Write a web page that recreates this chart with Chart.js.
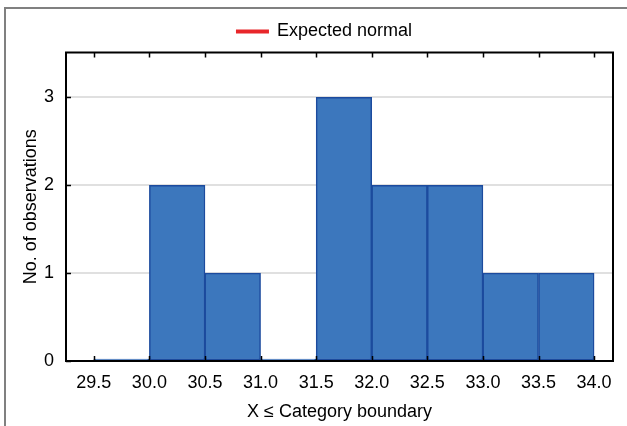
<!DOCTYPE html>
<html>
<head>
<meta charset="utf-8">
<script src="https://cdn.jsdelivr.net/npm/chart.js@4.4.1/dist/chart.umd.min.js"></script>
<style>
  html, body { margin: 0; padding: 0; background: #fff; }
  #wrap { width: 627px; height: 426px; }
</style>
</head>
<body>
<div id="wrap"><canvas id="histChart" width="627" height="426"></canvas></div>
<script>
// bin centres (each bin is 0.5 wide) and counts
const binCenters = [29.75, 30.25, 30.75, 31.25, 31.75, 32.25, 32.75, 33.25, 33.75];
const binCounts = [0, 2, 1, 0, 3, 2, 2, 1, 1];
// tick labels
const xTicks = [29.5, 30.0, 30.5, 31.0, 31.5, 32.0, 32.5, 33.0, 33.5, 34.0];
const yTicks = [0, 1, 2, 3];

const FONT = { family: "'Liberation Sans', Arial, sans-serif", size: 18 };

// outer frame + black plot box with inward tick marks
const framePlugin = {
  id: 'frame',
  afterLayout(chart) {
    // legend sits a bit right of the canvas centre in the original
    chart.legend.left += 13;
    chart.legend.right += 13;
  },
  beforeDraw(chart) {
    const ctx = chart.ctx;
    ctx.save();
    ctx.fillStyle = '#fff';
    ctx.fillRect(0, 0, chart.width, chart.height);
    ctx.strokeStyle = '#808080';
    ctx.lineWidth = 2;
    ctx.strokeRect(5, 8, chart.width + 10, chart.height + 10);
    ctx.restore();
  },
  afterDraw(chart) {
    const { ctx, chartArea: a } = chart;
    const xs = chart.scales.x, ys = chart.scales.y;
    ctx.save();
    ctx.strokeStyle = '#000';
    ctx.lineWidth = 2;
    ctx.strokeRect(a.left, a.top, a.right - a.left, a.bottom - a.top);
    ctx.lineWidth = 1.5;
    ctx.beginPath();
    xTicks.forEach(v => {
      const px = Math.round(xs.getPixelForValue(v)) + 0.5;
      ctx.moveTo(px, a.top); ctx.lineTo(px, a.top + 5);
      ctx.moveTo(px, a.bottom); ctx.lineTo(px, a.bottom - 5);
    });
    yTicks.forEach(v => {
      const py = Math.round(ys.getPixelForValue(v)) + 0.5;
      ctx.moveTo(a.left, py); ctx.lineTo(a.left + 5, py);
    });
    ctx.stroke();
    ctx.restore();
  }
};

new Chart(document.getElementById('histChart'), {
  type: 'bar',
  data: {
    datasets: [
      {
        label: 'Counts',
        data: binCenters.map((c, i) => ({ x: c, y: binCounts[i] })),
        backgroundColor: '#3c77bd',
        borderColor: '#1c4b9e',
        borderWidth: 1.5,
        borderSkipped: false,
        barPercentage: 1,
        categoryPercentage: 1,
        minBarLength: 2
      },
      {
        type: 'line',
        label: 'Expected normal',
        data: [],
        borderColor: '#e8262a',
        backgroundColor: '#e8262a',
        borderWidth: 2,
        pointRadius: 0
      }
    ]
  },
  options: {
    responsive: false,
    animation: false,
    layout: { padding: { left: 10, right: 14, top: 5.5, bottom: 0 } },
    plugins: {
      tooltip: { enabled: false },
      legend: {
        position: 'top',
        labels: {
          filter: item => item.text === 'Expected normal',
          boxWidth: 31,
          boxHeight: 2,
          color: '#000',
          font: FONT,
          padding: 17
        }
      }
    },
    scales: {
      x: {
        type: 'linear',
        offset: false,
        min: 29.25,
        max: 34.17,
        afterBuildTicks: s => { s.ticks = xTicks.map(v => ({ value: v })); },
        afterFit: s => { s.height = 65; },
        grid: { display: false, drawTicks: false, offset: false },
        border: { display: false },
        ticks: {
          color: '#000',
          font: FONT,
          padding: 11,
          maxRotation: 0,
          autoSkip: false,
          callback: v => Number(v).toFixed(1)
        },
        title: {
          display: true,
          text: 'X \u2264 Category boundary',
          color: '#000',
          font: FONT,
          padding: { top: 0, bottom: 3 }
        }
      },
      // empty top axis, only there to leave a small gap under the legend
      xTop: {
        type: 'linear',
        position: 'top',
        offset: false,
        min: 29.25,
        max: 34.17,
        afterFit: s => { s.height = 2; },
        grid: { display: false, drawTicks: false },
        border: { display: false },
        ticks: { display: false }
      },
      y: {
        min: 0,
        max: 3.51,
        afterBuildTicks: s => { s.ticks = yTicks.map(v => ({ value: v })); },
        afterFit: s => { s.width = 56; },
        grid: { color: '#e0e0e0', lineWidth: 2, drawTicks: false },
        border: { display: false },
        ticks: {
          color: '#000',
          font: FONT,
          padding: 12
        },
        title: {
          display: true,
          text: 'No. of observations',
          color: '#000',
          font: FONT,
          padding: { top: 10, bottom: 0 }
        }
      }
    }
  },
  plugins: [framePlugin]
});
</script>
</body>
</html>
